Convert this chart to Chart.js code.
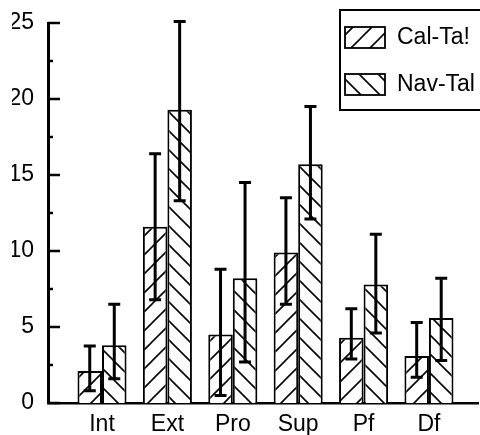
<!DOCTYPE html>
<html>
<head>
<meta charset="utf-8">
<script src="https://cdn.jsdelivr.net/npm/chart.js@4/dist/chart.umd.min.js"></script>
<style>
  body { margin: 0; background: #fff; }
</style>
</head>
<body>
<canvas id="myChart" width="480" height="435"></canvas>
<script>
// data
const labels = ['Int', 'Ext', 'Pro', 'Sup', 'Pf', 'Df'];
const seriesNames = ['Cal-Ta!', 'Nav-Tal'];
const calTal = [2.1, 11.6, 4.5, 9.9, 4.3, 3.1];
const calLow = [0.8, 6.8, 0.5, 6.5, 2.9, 1.7];
const calHigh = [3.75, 16.4, 8.8, 13.5, 6.2, 5.3];
const navTal = [3.8, 19.3, 8.2, 15.7, 7.8, 5.6];
const navLow = [1.6, 13.3, 2.7, 12.1, 4.6, 2.8];
const navHigh = [6.5, 25.1, 14.5, 19.5, 11.1, 8.2];
const yTicks = [0, 5, 10, 15, 20, 25];

const FONT = '"Liberation Sans", Arial, Helvetica, sans-serif';

function hatch(dir) {
    const s = 19;
    const c = document.createElement('canvas');
    c.width = s; c.height = s;
    const g = c.getContext('2d');
    g.fillStyle = '#fff';
    g.fillRect(0, 0, s, s);
    g.strokeStyle = '#000';
    g.lineWidth = 1.6;
    g.beginPath();
    if (dir === '/') {
        g.moveTo(0, s); g.lineTo(s, 0);
        g.moveTo(-2, 2); g.lineTo(2, -2);
        g.moveTo(s - 2, s + 2); g.lineTo(s + 2, s - 2);
    } else {
        g.moveTo(0, 0); g.lineTo(s, s);
        g.moveTo(-2, s - 2); g.lineTo(2, s + 2);
        g.moveTo(s - 2, -2); g.lineTo(s + 2, 2);
    }
    g.stroke();
    return g.createPattern(c, 'repeat');
}

const patterns = [hatch('/'), hatch('\\')];
const lows = [calLow, navLow];
const highs = [calHigh, navHigh];

const errorBars = {
    id: 'errorBars',
    afterDatasetsDraw(chart) {
        const ctx = chart.ctx;
        const y = chart.scales.y;
        ctx.save();
        ctx.strokeStyle = '#000';
        ctx.lineWidth = 3;
        chart.data.datasets.forEach((ds, i) => {
            chart.getDatasetMeta(i).data.forEach((bar, j) => {
                const yl = y.getPixelForValue(lows[i][j]);
                const yh = y.getPixelForValue(highs[i][j]);
                ctx.beginPath();
                ctx.moveTo(bar.x, yl); ctx.lineTo(bar.x, yh);
                ctx.moveTo(bar.x - 6, yl); ctx.lineTo(bar.x + 6, yl);
                ctx.moveTo(bar.x - 6, yh); ctx.lineTo(bar.x + 6, yh);
                ctx.stroke();
            });
        });
        ctx.restore();
    }
};

// inward ticks on the y axis, minor ones every 2.5
const innerTicks = {
    id: 'innerTicks',
    afterDraw(chart) {
        const ctx = chart.ctx;
        const y = chart.scales.y;
        const left = chart.chartArea.left;
        ctx.save();
        ctx.strokeStyle = '#000';
        ctx.lineWidth = 2.5;
        for (let v = 0; v <= 25; v += 2.5) {
            const py = y.getPixelForValue(v);
            const len = (v % 5 === 0) ? 12 : 5;
            ctx.beginPath();
            ctx.moveTo(left, py); ctx.lineTo(left + len, py);
            ctx.stroke();
        }
        ctx.restore();
    }
};

const boxLegend = {
    id: 'boxLegend',
    afterDraw(chart) {
        const ctx = chart.ctx;
        ctx.save();
        ctx.fillStyle = '#fff';
        ctx.fillRect(340, 10, 145, 100);
        ctx.strokeStyle = '#000';
        ctx.lineWidth = 2;
        ctx.strokeRect(340, 10, 145, 100);
        chart.data.datasets.forEach((ds, i) => {
            const top = 27 + i * 47;
            ctx.fillStyle = ds.backgroundColor;
            ctx.fillRect(345, top, 40, 21);
            ctx.lineWidth = 1.8;
            ctx.strokeRect(345, top, 40, 21);
            ctx.fillStyle = '#000';
            ctx.font = '23px ' + FONT;
            ctx.textBaseline = 'middle';
            ctx.fillText(ds.label, 397, top + 11);
        });
        ctx.restore();
    }
};

const chart = new Chart(document.getElementById('myChart'), {
    type: 'bar',
    data: {
        datasets: [
            {
                label: seriesNames[0],
                data: calTal.map((v, i) => ({ x: i + 1, y: v })),
                backgroundColor: patterns[0],
                borderColor: '#000',
                borderWidth: 2
            },
            {
                label: seriesNames[1],
                data: navTal.map((v, i) => ({ x: i + 1, y: v })),
                backgroundColor: patterns[1],
                borderColor: '#000',
                borderWidth: 2
            }
        ]
    },
    options: {
        responsive: false,
        animation: false,
        categoryPercentage: 0.75,
        barPercentage: 1.0,
        layout: { padding: { left: 12, right: 2, top: 23, bottom: 0 } },
        plugins: {
            legend: { display: false },
            tooltip: { enabled: false }
        },
        scales: {
            x: {
                type: 'linear',
                offset: false,
                min: 0.174,
                max: 6.75,
                grid: { display: false, drawTicks: false },
                border: { color: '#000', width: 2.5 },
                afterBuildTicks: (axis) => {
                    axis.ticks = labels.map((_, i) => ({ value: i + 1 }));
                },
                afterFit: (axis) => {
                    axis.height = 32;
                    axis.paddingLeft = 0;
                    axis.paddingRight = 0;
                },
                ticks: {
                    padding: 8,
                    color: '#000',
                    maxRotation: 0,
                    font: { family: FONT, size: 23 },
                    callback: (v) => labels[Math.round(v) - 1]
                }
            },
            y: {
                min: 0,
                max: 25,
                grid: { display: false, drawTicks: false },
                border: { color: '#000', width: 3 },
                afterBuildTicks: (axis) => {
                    axis.ticks = yTicks.map(v => ({ value: v }));
                },
                afterFit: (axis) => {
                    axis.width = 36;
                    axis.paddingTop = 0;
                    axis.paddingBottom = 0;
                },
                ticks: {
                    padding: 14,
                    color: '#000',
                    font: { family: FONT, size: 23 }
                }
            }
        }
    },
    plugins: [errorBars, innerTicks, boxLegend]
});
</script>
</body>
</html>
